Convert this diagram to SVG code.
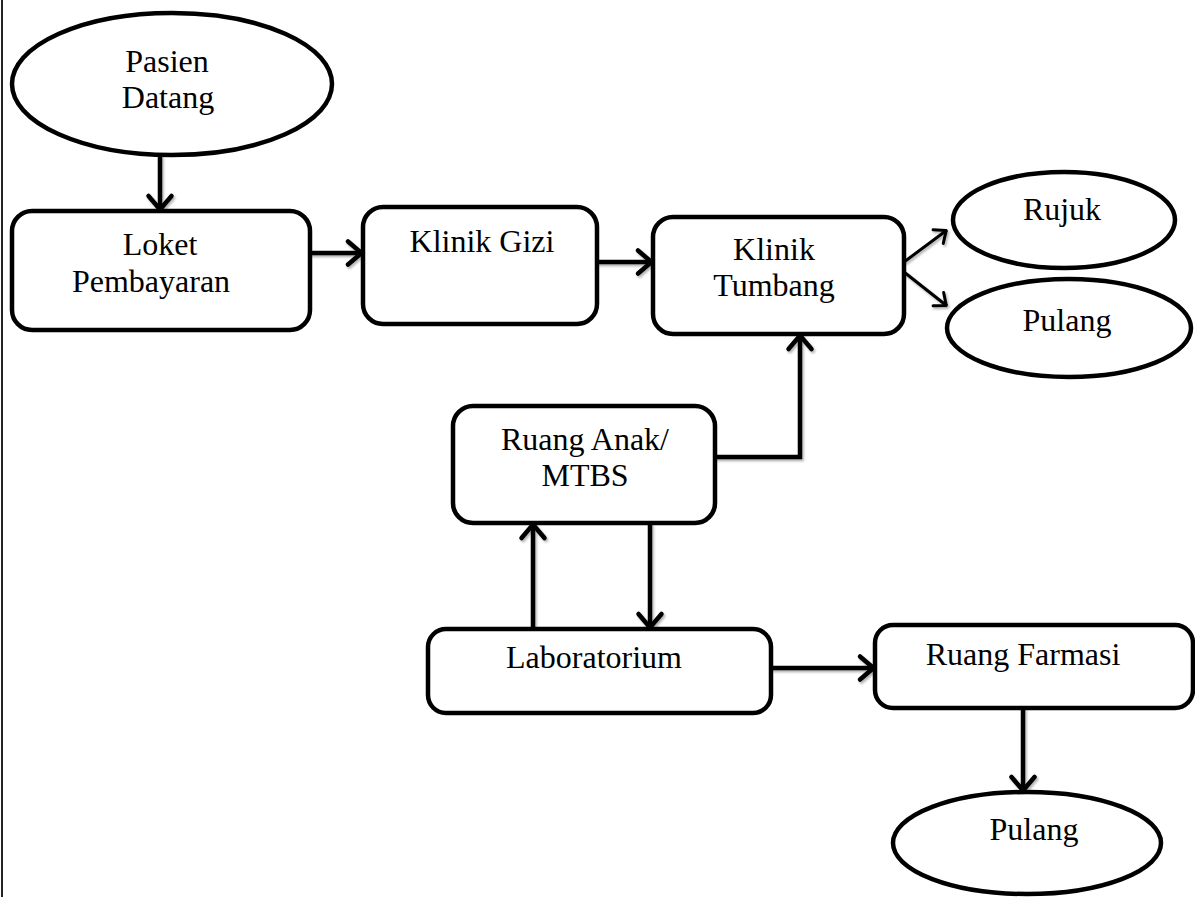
<svg xmlns="http://www.w3.org/2000/svg" width="1195" height="897" viewBox="0 0 1195 897">
<defs>
<style>
.node { fill:#fff; stroke:#000; stroke-width:4.5; }
.lbl { font-family:"Liberation Serif","Times New Roman",serif; font-size:32px; fill:#000; text-anchor:middle; }
.conn { fill:none; stroke:#000; stroke-width:4.5; }
.thin { stroke-width:3; }
</style>
<filter id="sh" x="-10%" y="-10%" width="120%" height="130%">
<feDropShadow dx="1.5" dy="2" stdDeviation="1.2" flood-color="#000" flood-opacity="0.3"/>
</filter>
<marker id="ah" markerUnits="userSpaceOnUse" viewBox="-20 -16 24 32" refX="0" refY="0" markerWidth="24" markerHeight="32" orient="auto" overflow="visible">
<path d="M-15,-11.5 L-1.5,0 L-15,11.5" fill="none" stroke="#000" stroke-width="4.5" stroke-linejoin="round" stroke-linecap="round"/>
</marker>
<marker id="ahs" markerUnits="userSpaceOnUse" viewBox="-16 -12 20 24" refX="0" refY="0" markerWidth="20" markerHeight="24" orient="auto" overflow="visible">
<path d="M-11,-8.5 L-1,0 L-11,8.5" fill="none" stroke="#000" stroke-width="3" stroke-linejoin="round" stroke-linecap="round"/>
</marker>
</defs>
<rect x="0" y="0" width="1195" height="897" fill="#fff"/>
<line x1="2" y1="0" x2="2" y2="897" stroke="#222" stroke-width="2"/>

<g id="connectors" filter="url(#sh)">
<path class="conn" d="M160,155 L160,211" marker-end="url(#ah)"/>
<path class="conn" d="M310,253 L363,253" marker-end="url(#ah)"/>
<path class="conn" d="M597,262 L653,262" marker-end="url(#ah)"/>
<path class="conn thin" d="M904,262 L947,230" marker-end="url(#ahs)"/>
<path class="conn thin" d="M904,272 L947,306" marker-end="url(#ahs)"/>
<path class="conn" d="M715,457 L800,457 L800,334" marker-end="url(#ah)"/>
<path class="conn" d="M533,629 L533,523" marker-end="url(#ah)"/>
<path class="conn" d="M650,523 L650,629" marker-end="url(#ah)"/>
<path class="conn" d="M771,668 L875,668" marker-end="url(#ah)"/>
<path class="conn" d="M1023,708 L1023,792" marker-end="url(#ah)"/>
</g>

<g id="pasien-datang">
<ellipse class="node" cx="172" cy="84" rx="160" ry="71"/>
<text class="lbl" x="167" y="72">Pasien</text>
<text class="lbl" x="168" y="108">Datang</text>
</g>
<g id="loket-pembayaran">
<rect class="node" x="12" y="211" width="298" height="119" rx="20"/>
<text class="lbl" x="160" y="255">Loket</text>
<text class="lbl" x="151" y="292">Pembayaran</text>
</g>
<g id="klinik-gizi">
<rect class="node" x="363" y="207" width="234" height="117" rx="20"/>
<text class="lbl" x="482" y="252">Klinik Gizi</text>
</g>
<g id="klinik-tumbang">
<rect class="node" x="653" y="217" width="251" height="117" rx="20"/>
<text class="lbl" x="774" y="260">Klinik</text>
<text class="lbl" x="774" y="296">Tumbang</text>
</g>
<g id="rujuk">
<ellipse class="node" cx="1064" cy="220" rx="111" ry="48"/>
<text class="lbl" x="1062" y="220">Rujuk</text>
</g>
<g id="pulang-1">
<ellipse class="node" cx="1069" cy="328" rx="122" ry="49"/>
<text class="lbl" x="1067" y="331">Pulang</text>
</g>
<g id="ruang-anak">
<rect class="node" x="453" y="406" width="262" height="117" rx="20"/>
<text class="lbl" x="585" y="450">Ruang Anak/</text>
<text class="lbl" x="585" y="486">MTBS</text>
</g>
<g id="laboratorium">
<rect class="node" x="428" y="629" width="343" height="84" rx="18"/>
<text class="lbl" x="594" y="668">Laboratorium</text>
</g>
<g id="ruang-farmasi">
<rect class="node" x="875" y="625" width="318" height="83" rx="18"/>
<text class="lbl" x="1023" y="665">Ruang Farmasi</text>
</g>
<g id="pulang-2">
<ellipse class="node" cx="1027" cy="843" rx="134" ry="51"/>
<text class="lbl" x="1034" y="840">Pulang</text>
</g>
</svg>
